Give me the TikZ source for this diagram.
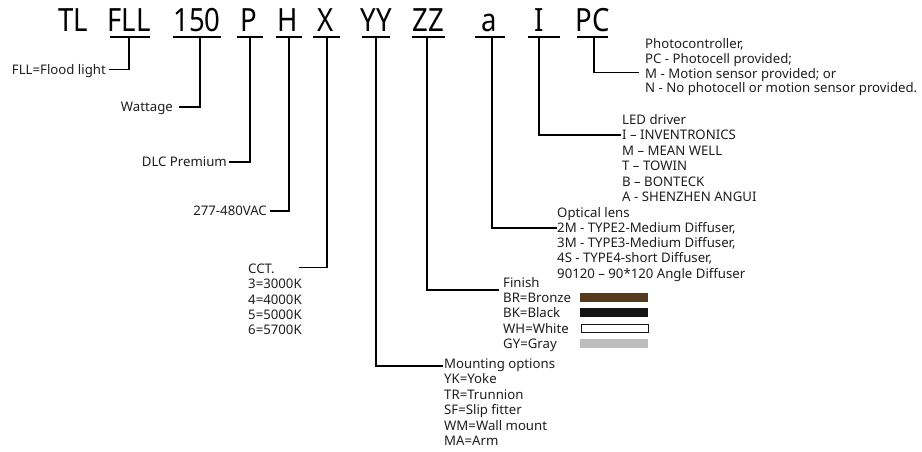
\documentclass[tikz,border=0pt]{standalone}
\usepackage{fontspec}
\setmainfont{Noto Sans}
\newfontfamily\codefont[FakeStretch=0.86]{Noto Sans}
\definecolor{txt}{HTML}{1E1E1E}
\definecolor{bronze}{HTML}{553A20}
\definecolor{blk}{HTML}{141414}
\definecolor{gry}{HTML}{BDBDBD}
\begin{document}
\begin{tikzpicture}[x=1pt,y=-1pt,
  code/.style={font=\codefont\fontsize{32}{32}\selectfont, inner sep=0pt, anchor=base, text=black},
  lbl/.style={font=\fontsize{13.2}{15}\selectfont, inner sep=0pt, text=txt},
  ln/.style={line width=1.7pt, line cap=rect, line join=miter},
  ul/.style={line width=2pt},
  swatch/.style={draw=none, minimum width=68pt, minimum height=9pt, inner sep=0pt, anchor=north west}]
\useasboundingbox (0,0) rectangle (922,452);

% --- code letters ---
\node[code] (tl)  at (73,32)  {TL};
\node[code] (fll) at (129,32) {FLL};
\node[code] (w)   at (197,32) {150};
\node[code] (p)   at (249,32) {P};
\node[code] (h)   at (288,32) {H};
\node[code] (x)   at (326,32) {X};
\node[code] (yy)  at (376,32) {YY};
\node[code] (zz)  at (428,32) {ZZ};
\node[code] (a)   at (489,32) {a};
\node[code] (i)   at (539,32) {I};
\node[code] (pc)  at (593,32) {PC};

% --- underlines ---
\draw[ul] (110,37) -- (150,37);
\draw[ul] (173,37) -- (221,37);
\draw[ul] (237,37) -- (263,37);
\draw[ul] (276,37) -- (302,37);
\draw[ul] (313,37) -- (340,37);
\draw[ul] (362,37) -- (390,37);
\draw[ul] (412,37) -- (445,37);
\draw[ul] (475,37) -- (505,37);
\draw[ul] (528,37) -- (560,37);
\draw[ul] (577,37) -- (608,37);
\coordinate (ufll) at (129,37);
\coordinate (uw)   at (200,37);
\coordinate (up)   at (250,37);
\coordinate (uh)   at (289,37);
\coordinate (ux)   at (327,37);
\coordinate (uyy)  at (376,37);
\coordinate (uzz)  at (427,37);
\coordinate (ua)   at (492,37);
\coordinate (ui)   at (539,37);
\coordinate (upc)  at (594,37);

% --- left labels ---
\node[lbl, anchor=base east] (lfll) at (106,74.5) {FLL=Flood light};
\node[lbl, anchor=base east] (lw)   at (173,111.5) {Wattage};
\node[lbl, anchor=base east] (lp)   at (227,166.5) {DLC Premium};
\node[lbl, anchor=base east] (lh)   at (267,215.5) {277-480VAC};
\coordinate (efll) at (110,69.5);
\coordinate (ew)   at (180,106.7);
\coordinate (ep)   at (230,161.7);
\coordinate (eh)   at (271,210.7);
\draw[ln] (ufll) |- (efll);
\draw[ln] (uw) |- (ew);
\draw[ln] (up) |- (ep);
\draw[ln] (uh) |- (eh);

% --- CCT ---
\foreach \t [count=\k] in {{CCT.},{3=3000K},{4=4000K},{5=5000K},{6=5700K}}
  \node[lbl, anchor=base west] (cct\k) at (248,273.5+15.3*\k-15.3) {\t};
\coordinate (ex) at (300,267.5);
\draw[ln] (ux) |- (ex);

% --- Mounting ---
\foreach \t [count=\k] in {{Mounting options},{YK=Yoke},{TR=Trunnion},{SF=Slip fitter},{WM=Wall mount},{MA=Arm}}
  \node[lbl, anchor=base west] (mo\k) at (444,368+15.5*\k-15.5) {\t};
\coordinate (eyy) at (442,366);
\draw[ln] (uyy) |- (eyy);

% --- Finish ---
\foreach \t [count=\k] in {{Finish},{BR=Bronze},{BK=Black},{WH=White},{GY=Gray}}
  \node[lbl, anchor=base west] (fi\k) at (503,287+15.4*\k-15.4) {\t};
\coordinate (ezz) at (498,290);
\draw[ln] (uzz) |- (ezz);
\node[swatch, fill=bronze] (sbr) at (580,293) {};
\node[swatch, fill=blk]    (sbk) at (580,307.5) {};
\node[swatch, fill=white, draw=blk, line width=1.2pt, minimum width=67pt, minimum height=8.5pt] (swh) at (580.5,323.5) {};
\node[swatch, fill=gry]    (sgy) at (580,339) {};

% --- Optical lens ---
\foreach \t [count=\k] in {{Optical lens},{2M - TYPE2-Medium Diffuser,},{3M - TYPE3-Medium Diffuser,},{4S - TYPE4-short Diffuser,},{90120 – 90*120 Angle Diffuser}}
  \node[lbl, anchor=base west] (ol\k) at (557,217+15.3*\k-15.3) {\t};
\coordinate (ea) at (556,228);
\draw[ln] (ua) |- (ea);

% --- LED driver ---
\foreach \t [count=\k] in {{LED driver},{I – INVENTRONICS},{M – MEAN WELL},{T – TOWIN},{B – BONTECK},{A - SHENZHEN ANGUI}}
  \node[lbl, anchor=base west] (ld\k) at (622,124.5+15.4*\k-15.4) {\t};
\coordinate (ei) at (620,135);
\draw[ln] (ui) |- (ei);

% --- Photocontroller ---
\foreach \t [count=\k] in {{Photocontroller,},{PC - Photocell provided;},{M - Motion sensor provided; or},{N - No photocell or motion sensor provided.}}
  \node[lbl, anchor=base west] (ph\k) at (645,49+14.6*\k-14.6) {\t};
\coordinate (epc) at (638,72.5);
\draw[ln] (upc) |- (epc);
\end{tikzpicture}
\end{document}
